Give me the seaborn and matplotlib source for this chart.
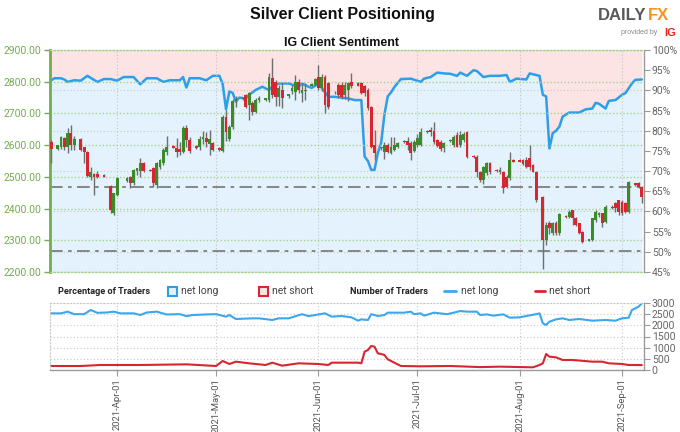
import pandas as pd
import matplotlib
matplotlib.use("Agg")
import matplotlib.pyplot as plt
import matplotlib.dates as mdates
import matplotlib.ticker as mticker
from matplotlib.patches import Rectangle
from matplotlib.lines import Line2D
import seaborn as sns

# ---------------- data ----------------
candle_dates = [
    "2021-03-12", "2021-03-14", "2021-03-15", "2021-03-16", "2021-03-17", "2021-03-18", "2021-03-19",
    "2021-03-21", "2021-03-22", "2021-03-23", "2021-03-24", "2021-03-25", "2021-03-26", "2021-03-28",
    "2021-03-30", "2021-03-31", "2021-04-01", "2021-04-04", "2021-04-05", "2021-04-06", "2021-04-07",
    "2021-04-08", "2021-04-09", "2021-04-11", "2021-04-12", "2021-04-13", "2021-04-14", "2021-04-15",
    "2021-04-16", "2021-04-18", "2021-04-19", "2021-04-20", "2021-04-21", "2021-04-22", "2021-04-23",
    "2021-04-25", "2021-04-26", "2021-04-27", "2021-04-28", "2021-04-29", "2021-04-30", "2021-05-02",
    "2021-05-03", "2021-05-04", "2021-05-05", "2021-05-06", "2021-05-07", "2021-05-09", "2021-05-10",
    "2021-05-11", "2021-05-12", "2021-05-13", "2021-05-14", "2021-05-16", "2021-05-17", "2021-05-18",
    "2021-05-19", "2021-05-20", "2021-05-21", "2021-05-23", "2021-05-24", "2021-05-25", "2021-05-26",
    "2021-05-27", "2021-05-28", "2021-05-30", "2021-05-31", "2021-06-01", "2021-06-02", "2021-06-03",
    "2021-06-04", "2021-06-06", "2021-06-07", "2021-06-08", "2021-06-09", "2021-06-10", "2021-06-11",
    "2021-06-13", "2021-06-14", "2021-06-15", "2021-06-16", "2021-06-17", "2021-06-18", "2021-06-20",
    "2021-06-21", "2021-06-22", "2021-06-23", "2021-06-24", "2021-06-25", "2021-06-27", "2021-06-28",
    "2021-06-29", "2021-06-30", "2021-07-01", "2021-07-02", "2021-07-04", "2021-07-05", "2021-07-06",
    "2021-07-07", "2021-07-08", "2021-07-09", "2021-07-11", "2021-07-12", "2021-07-13", "2021-07-14",
    "2021-07-15", "2021-07-16", "2021-07-18", "2021-07-19", "2021-07-20", "2021-07-21", "2021-07-22",
    "2021-07-23", "2021-07-25", "2021-07-26", "2021-07-27", "2021-07-28", "2021-07-29", "2021-07-30",
    "2021-08-01", "2021-08-02", "2021-08-03", "2021-08-04", "2021-08-05", "2021-08-06", "2021-08-08",
    "2021-08-09", "2021-08-10", "2021-08-11", "2021-08-12", "2021-08-13", "2021-08-15", "2021-08-16",
    "2021-08-17", "2021-08-18", "2021-08-19", "2021-08-20", "2021-08-22", "2021-08-23", "2021-08-24",
    "2021-08-25", "2021-08-26", "2021-08-27", "2021-08-29", "2021-08-30", "2021-08-31", "2021-09-01",
    "2021-09-02", "2021-09-03", "2021-09-05", "2021-09-06", "2021-09-07",
]
candle_open = [
    2611, 2587, 2593, 2621, 2593, 2637, 2600, 2618, 2593, 2579, 2500, 2509, 2509, 2506,
    2471, 2385, 2443, 2488, 2500, 2480, 2519, 2519, 2543, 2522, 2527, 2475, 2532, 2543,
    2579, 2597, 2590, 2587, 2579, 2653, 2616, 2597, 2593, 2618, 2624, 2605, 2606, 2590,
    2582, 2688, 2620, 2658, 2738, 2746, 2758, 2727, 2733, 2706, 2742, 2742, 2742, 2811,
    2800, 2752, 2774, 2755, 2770, 2769, 2800, 2765, 2770, 2788, 2790, 2816, 2779, 2816,
    2795, 2767, 2790, 2790, 2758, 2775, 2800, 2795, 2795, 2785, 2774, 2721, 2600, 2590,
    2579, 2600, 2576, 2585, 2593, 2614, 2614, 2608, 2582, 2600, 2600, 2645, 2648, 2645,
    2616, 2611, 2590, 2614, 2600, 2632, 2600, 2616, 2642, 2566, 2564, 2516, 2490, 2511,
    2543, 2521, 2516, 2516, 2500, 2495, 2553, 2553, 2553, 2553, 2558, 2537, 2516, 2437,
    2301, 2353, 2322, 2356, 2324, 2378, 2374, 2395, 2369, 2353, 2327, 2299, 2301, 2364,
    2380, 2385, 2359, 2406, 2416, 2427, 2422, 2419, 2390, 2480, 2480, 2469,
]
candle_high = [
    2615, 2602, 2630, 2625, 2653, 2663, 2629, 2622, 2595, 2582, 2532, 2512, 2520, 2508,
    2475, 2450, 2498, 2500, 2503, 2525, 2528, 2558, 2548, 2524, 2530, 2548, 2556, 2590,
    2629, 2600, 2621, 2611, 2661, 2663, 2625, 2600, 2629, 2645, 2643, 2647, 2609, 2593,
    2695, 2711, 2665, 2745, 2755, 2752, 2762, 2768, 2740, 2748, 2755, 2750, 2827, 2875,
    2805, 2790, 2795, 2762, 2790, 2821, 2810, 2795, 2795, 2795, 2812, 2853, 2825, 2821,
    2800, 2772, 2795, 2800, 2800, 2800, 2826, 2798, 2800, 2790, 2780, 2725, 2648, 2595,
    2611, 2606, 2627, 2627, 2611, 2617, 2625, 2612, 2615, 2635, 2653, 2648, 2658, 2674,
    2620, 2615, 2611, 2618, 2632, 2640, 2645, 2642, 2645, 2570, 2569, 2520, 2535, 2548,
    2548, 2524, 2530, 2520, 2505, 2579, 2556, 2556, 2556, 2564, 2600, 2540, 2520, 2440,
    2359, 2360, 2359, 2360, 2385, 2380, 2395, 2397, 2372, 2356, 2330, 2305, 2370, 2395,
    2390, 2387, 2411, 2410, 2422, 2427, 2427, 2422, 2488, 2482, 2485, 2470,
]
candle_low = [
    2543, 2585, 2588, 2585, 2576, 2585, 2585, 2583, 2543, 2498, 2490, 2443, 2495, 2498,
    2385, 2380, 2440, 2485, 2464, 2475, 2505, 2500, 2515, 2517, 2469, 2466, 2525, 2538,
    2569, 2592, 2564, 2569, 2574, 2595, 2576, 2588, 2585, 2605, 2595, 2569, 2580, 2583,
    2579, 2612, 2612, 2650, 2720, 2742, 2718, 2680, 2694, 2700, 2735, 2740, 2735, 2748,
    2725, 2722, 2717, 2750, 2760, 2742, 2765, 2737, 2742, 2785, 2785, 2775, 2770, 2700,
    2715, 2762, 2750, 2745, 2745, 2740, 2780, 2785, 2760, 2755, 2710, 2590, 2553, 2585,
    2555, 2575, 2572, 2580, 2590, 2608, 2585, 2553, 2578, 2595, 2597, 2638, 2630, 2605,
    2595, 2580, 2577, 2610, 2595, 2595, 2593, 2610, 2558, 2560, 2500, 2485, 2478, 2506,
    2510, 2516, 2510, 2450, 2465, 2490, 2547, 2547, 2538, 2527, 2522, 2514, 2422, 2208,
    2285, 2320, 2317, 2317, 2317, 2370, 2369, 2348, 2345, 2320, 2290, 2297, 2298, 2359,
    2375, 2343, 2354, 2400, 2390, 2380, 2380, 2385, 2385, 2472, 2464, 2416,
]
candle_close = [
    2587, 2600, 2627, 2593, 2637, 2600, 2618, 2585, 2579, 2503, 2516, 2500, 2500, 2500,
    2395, 2448, 2495, 2495, 2480, 2522, 2527, 2543, 2519, 2519, 2480, 2543, 2553, 2585,
    2595, 2590, 2579, 2579, 2653, 2616, 2582, 2590, 2618, 2627, 2611, 2618, 2585, 2585,
    2690, 2642, 2658, 2738, 2745, 2750, 2721, 2764, 2705, 2742, 2750, 2748, 2816, 2758,
    2752, 2780, 2748, 2760, 2780, 2800, 2774, 2775, 2775, 2792, 2810, 2779, 2816, 2727,
    2721, 2769, 2758, 2753, 2790, 2795, 2787, 2787, 2763, 2763, 2716, 2595, 2574, 2595,
    2600, 2579, 2593, 2600, 2606, 2610, 2600, 2576, 2611, 2621, 2642, 2640, 2640, 2611,
    2597, 2587, 2606, 2616, 2627, 2595, 2632, 2635, 2564, 2562, 2516, 2490, 2530, 2543,
    2516, 2518, 2522, 2464, 2469, 2553, 2548, 2548, 2540, 2532, 2532, 2516, 2427, 2301,
    2348, 2338, 2353, 2322, 2383, 2372, 2390, 2369, 2348, 2322, 2296, 2303, 2369, 2390,
    2385, 2353, 2406, 2401, 2401, 2390, 2385, 2390, 2485, 2474, 2469, 2437,
]

sent_dates = [
    "2021-03-11", "2021-03-13", "2021-03-15", "2021-03-16", "2021-03-17", "2021-03-19", "2021-03-21",
    "2021-03-23", "2021-03-26", "2021-03-28", "2021-03-30", "2021-04-01", "2021-04-03", "2021-04-06",
    "2021-04-08", "2021-04-10", "2021-04-13", "2021-04-15", "2021-04-17", "2021-04-20", "2021-04-21",
    "2021-04-22", "2021-04-23", "2021-04-26", "2021-04-28", "2021-04-30", "2021-05-02", "2021-05-03",
    "2021-05-04", "2021-05-05", "2021-05-06", "2021-05-07", "2021-05-08", "2021-05-10", "2021-05-11",
    "2021-05-13", "2021-05-15", "2021-05-17", "2021-05-18", "2021-05-20", "2021-05-23", "2021-05-26",
    "2021-05-27", "2021-05-29", "2021-05-30", "2021-06-01", "2021-06-04", "2021-06-06", "2021-06-10",
    "2021-06-12", "2021-06-14", "2021-06-15", "2021-06-16", "2021-06-17", "2021-06-18", "2021-06-19",
    "2021-06-20", "2021-06-21", "2021-06-22", "2021-06-23", "2021-06-24", "2021-06-26", "2021-06-29",
    "2021-07-02", "2021-07-03", "2021-07-05", "2021-07-07", "2021-07-09", "2021-07-11", "2021-07-13",
    "2021-07-14", "2021-07-16", "2021-07-18", "2021-07-19", "2021-07-21", "2021-07-23", "2021-07-26",
    "2021-07-28", "2021-07-29", "2021-07-31", "2021-08-03", "2021-08-04", "2021-08-06", "2021-08-07",
    "2021-08-08", "2021-08-09", "2021-08-10", "2021-08-11", "2021-08-12", "2021-08-13", "2021-08-14",
    "2021-08-16", "2021-08-19", "2021-08-21", "2021-08-23", "2021-08-24", "2021-08-25", "2021-08-27",
    "2021-08-28", "2021-08-30", "2021-09-01", "2021-09-02", "2021-09-04", "2021-09-05", "2021-09-07",
]
sent_long_pct = [
    91.9, 93.0, 93.0, 92.7, 92.1, 92.5, 92.4,
    93.6, 92.1, 92.8, 92.8, 92.4, 93.3, 93.3,
    91.5, 93.0, 93.0, 92.1, 92.5, 92.5, 93.3,
    90.7, 93.0, 93.0, 92.5, 93.6, 93.6, 91.5,
    85.3, 89.7, 89.4, 87.2, 88.2, 88.0, 88.9,
    90.1, 90.9, 90.1, 90.9, 91.7, 91.7, 90.9,
    91.7, 90.9, 90.6, 91.7, 88.4, 88.4, 88.0,
    87.6, 87.6, 73.6, 72.5, 70.3, 70.3, 74.5,
    77.0, 84.0, 88.5, 89.5, 90.8, 92.8, 92.9,
    92.1, 92.9, 93.3, 94.4, 94.2, 94.1, 93.6,
    94.4, 93.6, 95.0, 94.8, 93.3, 93.6, 93.6,
    93.8, 92.1, 92.9, 92.7, 94.2, 93.8, 93.6,
    88.9, 88.5, 75.6, 79.4, 80.0, 81.0, 83.5,
    84.5, 84.5, 85.3, 85.5, 86.9, 86.7, 85.5,
    87.4, 87.6, 88.9, 89.3, 91.7, 92.6, 92.7,
]

long_dates = [
    "2021-03-11", "2021-03-15", "2021-03-17", "2021-03-19", "2021-03-22", "2021-03-24", "2021-03-26",
    "2021-03-29", "2021-03-31", "2021-04-02", "2021-04-06", "2021-04-08", "2021-04-10", "2021-04-13",
    "2021-04-16", "2021-04-20", "2021-04-22", "2021-04-24", "2021-04-28", "2021-05-01", "2021-05-04",
    "2021-05-05", "2021-05-07", "2021-05-12", "2021-05-14", "2021-05-18", "2021-05-20", "2021-05-23",
    "2021-05-27", "2021-05-29", "2021-06-03", "2021-06-05", "2021-06-08", "2021-06-11", "2021-06-13",
    "2021-06-14", "2021-06-16", "2021-06-17", "2021-06-19", "2021-06-21", "2021-06-22", "2021-06-27",
    "2021-06-29", "2021-06-30", "2021-07-02", "2021-07-03", "2021-07-06", "2021-07-10", "2021-07-12",
    "2021-07-14", "2021-07-16", "2021-07-19", "2021-07-20", "2021-07-22", "2021-07-24", "2021-07-27",
    "2021-07-29", "2021-08-01", "2021-08-03", "2021-08-06", "2021-08-07", "2021-08-08", "2021-08-09",
    "2021-08-10", "2021-08-12", "2021-08-14", "2021-08-16", "2021-08-19", "2021-08-23", "2021-08-27",
    "2021-08-30", "2021-09-01", "2021-09-03", "2021-09-04", "2021-09-06", "2021-09-07",
]
long_traders = [
    2537, 2537, 2612, 2500, 2500, 2687, 2560,
    2575, 2612, 2537, 2537, 2462, 2575, 2612,
    2487, 2500, 2412, 2462, 2487, 2500, 2388,
    2462, 2283, 2313, 2313, 2239, 2313, 2313,
    2500, 2412, 2537, 2388, 2418, 2358, 2209,
    2268, 2239, 2500, 2418, 2462, 2567, 2567,
    2612, 2500, 2537, 2433, 2567, 2500, 2567,
    2642, 2612, 2612, 2462, 2490, 2433, 2492,
    2343, 2358, 2418, 2500, 2537, 2090, 2015,
    2164, 2268, 2313, 2239, 2283, 2209, 2239,
    2209, 2313, 2343, 2687, 2836, 2985,
]

short_dates = [
    "2021-03-11", "2021-03-21", "2021-03-27", "2021-04-08", "2021-04-22", "2021-05-01", "2021-05-03",
    "2021-05-05", "2021-05-07", "2021-05-11", "2021-05-16", "2021-05-18", "2021-05-21", "2021-05-26",
    "2021-06-01", "2021-06-04", "2021-06-05", "2021-06-08", "2021-06-13", "2021-06-14", "2021-06-15",
    "2021-06-16", "2021-06-17", "2021-06-18", "2021-06-19", "2021-06-20", "2021-06-21", "2021-06-22",
    "2021-06-24", "2021-06-26", "2021-07-02", "2021-07-11", "2021-07-20", "2021-07-26", "2021-08-05",
    "2021-08-07", "2021-08-08", "2021-08-09", "2021-08-10", "2021-08-12", "2021-08-14", "2021-08-17",
    "2021-08-23", "2021-08-26", "2021-08-28", "2021-09-01", "2021-09-03", "2021-09-06", "2021-09-07",
]
short_traders = [
    179, 179, 224, 224, 254, 179, 403,
    269, 373, 299, 224, 328, 194, 299,
    269, 224, 328, 328, 328, 299, 821,
    896, 1075, 1045, 746, 716, 672, 478,
    328, 179, 165, 180, 130, 150, 120,
    224, 299, 716, 597, 567, 448, 448,
    373, 373, 299, 269, 224, 224, 220,
]

ref_levels = [2467, 2267]
price_ticks = [2200, 2300, 2400, 2500, 2600, 2700, 2800, 2900]
pct_ticks = [45, 50, 55, 60, 65, 70, 75, 80, 85, 90, 95, 100]
pct_grid = [50, 60, 70, 80, 90]
trader_ticks = [0, 500, 1000, 1500, 2000, 2500, 3000]
month_ticks = ["2021-04-01", "2021-05-01", "2021-06-01", "2021-07-01", "2021-08-01", "2021-09-01"]

# ---------------- style ----------------
sns.set_theme(style="white")
BASE = ["Roboto", "Liberation Sans", "DejaVu Sans"]
plt.rcParams["font.family"] = BASE
TITLE_FONT = ["Liberation Sans", "DejaVu Sans"]

GREEN_AX = "#72ad4f"
GREEN_GRID = "#a9d18e"
PINK = "#fce3e4"
SKY = "#e3f2fc"
BLUE = "#2b9fea"
LBLUE = "#3aa7ee"
RED = "#d7262f"
CGREEN = "#3a8a2a"
GREY = "#9a9a9a"

W, H = 680, 432
fig = plt.figure(figsize=(6.8, 4.32), dpi=100)


def fx(p):
    return p / W


def fy(p):
    return 1 - p / H


L, R = 50, 643.5
ax = fig.add_axes([fx(L), fy(272), fx(R) - fx(L), fy(50) - fy(272)])
ax_pct = ax.twinx()
ax_pct.set_zorder(0)
ax.set_zorder(1)
ax.patch.set_visible(False)

cd = pd.to_datetime(candle_dates)
sd = pd.to_datetime(sent_dates)
xmin, xmax = pd.Timestamp("2021-03-11 16:00"), pd.Timestamp("2021-09-07 12:00")

# sentiment background & line
ax_pct.fill_between(sd, sent_long_pct, 100, color=PINK, lw=0, zorder=0.1)
ax_pct.fill_between(sd, 45, sent_long_pct, color=SKY, lw=0, zorder=0.1)
for g in pct_grid:
    ax_pct.axhline(g, color="#c8c8c8", lw=0.8, ls=(0, (1, 2)), zorder=0.3)
sent_df = pd.DataFrame({"date": sd, "pct": sent_long_pct})
sns.lineplot(data=sent_df, x="date", y="pct", ax=ax_pct, color=BLUE, lw=1.8, zorder=2)
ax_pct.set_ylim(45, 100)
ax_pct.set_yticks(pct_ticks)
ax_pct.yaxis.set_major_formatter(mticker.FuncFormatter(lambda v, p: f"{v:.0f}%"))
ax_pct.tick_params(axis="y", labelsize=7.5, labelcolor="#666666", color=GREY, length=4, width=0.8, pad=2)
ax_pct.set_xlabel("")
ax_pct.set_ylabel("")
ax_pct.grid(False)
for s in ["left", "top", "bottom"]:
    ax_pct.spines[s].set_visible(False)
ax_pct.spines["right"].set_color(GREY)
ax_pct.spines["right"].set_linewidth(1)

# candlesticks
colors = [CGREEN if c >= o else RED for o, c in zip(candle_open, candle_close)]
bottoms = [min(o, c) for o, c in zip(candle_open, candle_close)]
heights = [max(abs(c - o), 2) for o, c in zip(candle_open, candle_close)]
ax.vlines(cd, candle_low, candle_high, color="#6e6e6e", lw=1, zorder=3)
ax.bar(cd, heights, bottom=bottoms, width=0.85, color=colors, lw=0, zorder=4)
for lvl in ref_levels:
    ax.axhline(lvl, color="#7d7d7d", lw=1.3, ls=(0, (7, 3, 2, 3)), zorder=2)

ax.set_xlim(xmin, xmax)
ax.set_ylim(2200, 2900)
ax.set_yticks(price_ticks)
ax.yaxis.set_major_formatter(mticker.FormatStrFormatter("%.2f"))
ax.tick_params(axis="y", labelsize=7.5, labelcolor=GREEN_AX, color=GREEN_AX, length=4, width=1, pad=2,
               left=True, labelleft=True)
ax.set_xticks(pd.to_datetime(month_ticks))
ax.tick_params(axis="x", length=0, labelbottom=False)
ax.grid(axis="y", color=GREEN_GRID, lw=1, ls=(0, (1, 1.5)))
ax.grid(axis="x", color="#c2c2c2", lw=0.8, ls=(0, (1, 2)))
ax.set_axisbelow(True)
ax.spines["right"].set_visible(False)
ax.spines["left"].set_color(GREEN_AX)
ax.spines["left"].set_linewidth(2)
for s in ["top", "bottom"]:
    ax.spines[s].set_color(GREEN_GRID)
    ax.spines[s].set_linestyle((0, (1, 1.5)))
    ax.spines[s].set_linewidth(1)

# ---------------- bottom panel ----------------
ax3 = fig.add_axes([fx(L), fy(370), fx(R) - fx(L), fy(303) - fy(370)], sharex=ax)
long_df = pd.DataFrame({"date": pd.to_datetime(long_dates), "n": long_traders})
short_df = pd.DataFrame({"date": pd.to_datetime(short_dates), "n": short_traders})
sns.lineplot(data=long_df, x="date", y="n", ax=ax3, color=LBLUE, lw=1.5)
sns.lineplot(data=short_df, x="date", y="n", ax=ax3, color=RED, lw=1.5)
ax3.set_ylim(0, 3000)
ax3.set_xlim(xmin, xmax)
ax3.yaxis.tick_right()
ax3.set_yticks(trader_ticks)
ax3.set_xlabel("")
ax3.set_ylabel("")
ax3.grid(True, color="#c8c8c8", lw=0.8, ls=(0, (1, 2)))
ax3.set_axisbelow(True)
ax3.xaxis.set_major_formatter(mdates.DateFormatter("%Y-%b-%d"))
ax3.tick_params(axis="x", rotation=90, labelsize=6.8, labelcolor="#555555", color=GREY,
                length=4, width=0.8, pad=2, bottom=True, labelbottom=True)
ax3.tick_params(axis="y", labelsize=7.5, labelcolor="#666666", color=GREY, length=4, width=0.8, pad=2,
                right=True, labelright=True, left=False, labelleft=False)
for s in ["left", "top"]:
    ax3.spines[s].set_color("#c8c8c8")
    ax3.spines[s].set_linestyle((0, (1, 2)))
    ax3.spines[s].set_linewidth(0.8)
for s in ["right", "bottom"]:
    ax3.spines[s].set_color(GREY)
    ax3.spines[s].set_linewidth(1)

# ---------------- legends ----------------
ly = fy(291)
fig.text(fx(58), ly, "Percentage of Traders", fontsize=6.6, weight="bold", color="#222222", va="center")
fig.patches.append(Rectangle((fx(168), fy(296)), 9 / W, 9 / H, transform=fig.transFigure,
                             fc=SKY, ec=BLUE, lw=1.5))
fig.text(fx(181), ly, "net long", fontsize=7.5, color="#444444", va="center")
fig.patches.append(Rectangle((fx(259), fy(296)), 9 / W, 9 / H, transform=fig.transFigure,
                             fc=PINK, ec=RED, lw=1.5))
fig.text(fx(272), ly, "net short", fontsize=7.5, color="#444444", va="center")
fig.text(fx(350), ly, "Number of Traders", fontsize=6.6, weight="bold", color="#222222", va="center")
fig.lines.append(Line2D([fx(444), fx(456)], [ly, ly], transform=fig.transFigure, color=LBLUE, lw=2))
fig.text(fx(461), ly, "net long", fontsize=7.5, color="#444444", va="center")
fig.lines.append(Line2D([fx(535), fx(545)], [ly, ly], transform=fig.transFigure, color=RED, lw=2))
fig.text(fx(549), ly, "net short", fontsize=7.5, color="#444444", va="center")

# ---------------- titles & logo ----------------
fig.text(fx(342), fy(15), "Silver Client Positioning", ha="center", va="center", fontsize=11.5,
         weight="bold", color="#111111", family=TITLE_FONT)
fig.text(fx(341), fy(43), "IG Client Sentiment", ha="center", va="center", fontsize=9,
         weight="bold", color="#111111", family=TITLE_FONT)
fig.text(fx(598), fy(16), "DAILY", ha="left", va="center", fontsize=12, weight="bold",
         color="#58595b", family=TITLE_FONT)
fig.text(fx(648), fy(16), "FX", ha="left", va="center", fontsize=12, weight="bold",
         color="#f7931e", family=TITLE_FONT)
fig.text(fx(657), fy(33), "provided by", ha="right", va="center", fontsize=5, color="#888888",
         family=TITLE_FONT)
fig.text(fx(676), fy(33), "IG", ha="right", va="center", fontsize=8, weight="bold", color="#e2231a",
         family=TITLE_FONT)

fig.savefig("out.png", dpi=100)
